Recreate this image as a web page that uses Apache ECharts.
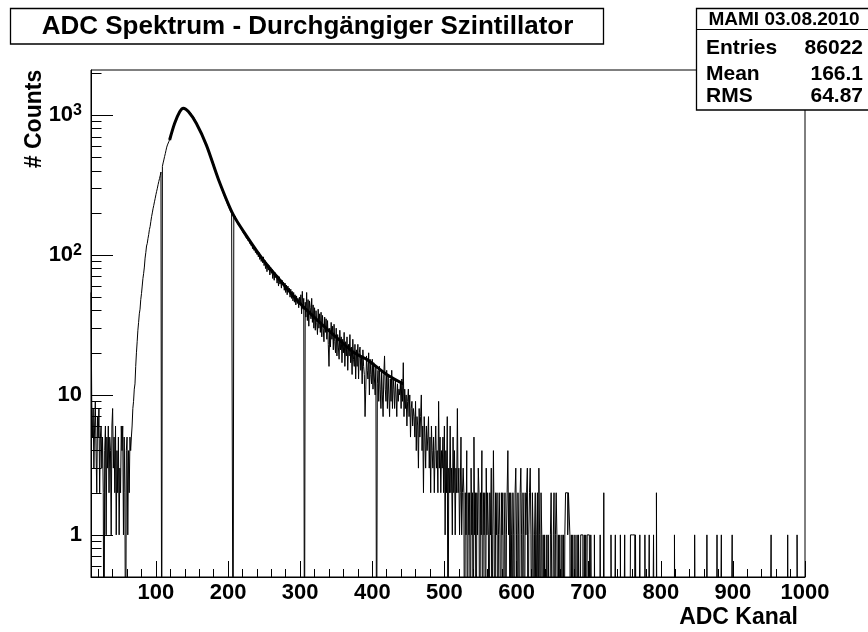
<!DOCTYPE html>
<html><head><meta charset="utf-8">
<script src="https://cdn.jsdelivr.net/npm/echarts@6/dist/echarts.min.js"></script>
<style>html,body{margin:0;padding:0;background:#fff}#c{width:868px;height:632px}</style>
</head><body><div id="c"></div>
<script>
// ---- data ----
const titleText = 'ADC Spektrum - Durchgängiger Szintillator';
const xAxisTitle = 'ADC Kanal';
const yAxisTitle = '# Counts';
const statHeader = 'MAMI 03.08.2010';
const statLabels = ['Entries', 'Mean', 'RMS'];
const statValues = ['86022', '166.1', '64.87'];

const binStart = 10;   // first bin (channel) shown
const binEnd = 1000;   // histogram upper edge
// counts per channel, channels 10 .. 707
const counts = [
 54,9,5,8,3,6,9,4,2,7,
 5,8,2,5,6,3,5,2,0,4,
 6,1,5,3,6,2,5,4,1,6,
 8,3,5,2,6,1,4,2,5,1,
 3,2,6,4,6,1,5,2,0,4,
 5,1,4,2,5,4,5,6,8,9,
 11,12,16,20,24,29,33,38,41,48,
 53,60,68,74,82,95,104,116,121,131,
 140,152,160,174,188,200,214,226,240,254,
 270,285,300,318,335,352,370,392,0,430,
 455,478,505,530,560,590,612,630,648,664,
 690,720,750,790,810,845,874,900,935,960,
 988,1012,1030,1057,1072,1098,1104,1121,1126,1108,
 1121,1095,1101,1080,1089,1062,1058,1041,1028,1011,
 992,975,960,938,925,901,880,866,849,830,
 812,792,770,752,731,705,690,668,650,631,
 612,598,580,561,548,522,510,494,476,462,
 448,430,415,400,386,370,356,345,334,320,
 312,298,290,280,271,262,255,248,240,233,
 226,220,214,208,204,199,196,0,192,181,
 190,176,180,170,172,162,166,158,155,160,
 148,150,141,146,136,140,131,137,126,131,
 121,127,117,122,111,118,108,113,104,110,
 101,106,97,104,93,99,90,96,88,97,
 84,92,80,89,76,86,78,84,72,82,
 74,79,68,77,66,75,69,72,63,71,
 60,70,62,67,58,66,61,64,56,63,
 54,61,52,60,55,58,50,57,49,55,
 47,54,46,52,44,51,45,49,42,50,
 44,52,38,55,41,49,0,46,36,54,
 34,48,31,47,42,35,49,33,44,30,
 42,29,40,33,27,41,30,38,28,39,
 26,37,30,24,36,28,35,25,34,23,
 16,30,22,33,25,31,21,32,24,20,
 30,19,27,22,18,29,21,26,17,25,
 20,28,16,24,19,26,15,23,19,27,
 17,22,14,25,18,16,23,13,21,16,
 23,13,20,22,15,19,12,21,16,14,
 7,11,19,15,13,20,10,18,14,12,
 18,11,17,13,10,16,0,12,15,9,
 16,11,8,15,10,7,14,19,11,9,
 15,8,14,10,7,13,9,15,8,13,
 11,8,13,10,7,12,9,11,10,12,
 8,13,9,17,7,11,8,10,6,9,
 11,7,10,5,8,9,6,8,7,5,
 9,4,7,6,3,8,5,7,10,4,
 6,2,7,5,3,6,4,5,7,3,
 5,2,6,4,3,5,2,4,6,3,
 4,2,9,3,5,2,4,3,5,2,
 6,1,4,2,7,0,3,2,6,2,
 3,1,5,2,4,1,3,2,8,2,
 3,1,2,5,1,2,3,2,0,2,
 1,4,0,2,1,2,0,3,1,2,
 0,5,1,2,0,2,1,3,2,0,
 2,1,4,0,2,1,2,0,3,1,
 2,1,0,2,1,3,0,1,4,1,
 0,2,1,2,0,1,2,1,0,2,
 1,2,0,1,2,0,1,2,4,1,
 2,0,2,1,0,2,1,0,2,3,
 1,0,2,1,0,2,3,1,0,2,
 1,0,2,1,2,3,0,1,2,3,
 1,0,2,1,0,1,2,0,1,2,
 0,3,1,0,2,1,0,1,0,1,
 1,0,1,0,1,1,0,1,2,2,
 0,1,2,0,1,2,1,0,1,0,
 1,1,0,1,0,1,0,1,2,2,
 2,1,2,2,1,0,1,0,1,1,
 0,1,1,0,1,0,1,1,0,1,
 1,1,0,0,1,0,1,0,1,1,
 1,1,0,1,1,0,0,0
];
// sparse tail above channel 707 (all other channels empty)
const tailBins   = [708,716,721,731,737,744,750,758,759,760,761,762,763,765,771,778,784,790,794,819,847,864,878,884,899,953,976,989];
const tailCounts = [1,  1,  2,  1,  1,  1,  1,  1,  1,  1,  1,  1,  1,  1,  1,  1,  1,  1,  2,  1,  1,  1,  1,  1,  1,  1,  1,  1];

// fit curve, points
const fitX = [119,126,133,138,145,156,170,187,207,226,249,270,300,330,346,375,392,420,443];
const fitY = [664,874,1057,1120,1060,874,610,344,195,136,92,68,45,32,27,20,18,14,12];

// axis ticks / labels
const xMajorTicks = [100,200,300,400,500,600,700,800,900,1000];
const xTickLabels = ['100','200','300','400','500','600','700','800','900','1000'];
const yMajorTicks = [1,10,100,1000];
const yTickLabels = ['1','10','10{sup|2}','10{sup|3}'];
const xMin = 10, xMax = 1000, yMin = 0.5, yMax = 2100;

// ---- build ----
const nBins = binEnd - binStart;
const full = new Array(nBins).fill(0);
counts.forEach((c, i) => { full[i] = c; });
tailBins.forEach((b, i) => { full[b - binStart] = tailCounts[i]; });
const EMPTY = 0.05; // below axis min -> clipped to frame bottom like ROOT
const histData = full.map((c, i) => [binStart + i, c > 0 ? c : EMPTY]);
histData.push([binEnd, full[nBins - 1] > 0 ? full[nBins - 1] : EMPTY]);
const fitData = fitX.map((x, i) => [x, fitY[i]]);

const xMinorTicks = [];
for (let v = 20; v < xMax; v += 20) if (v % 100 !== 0) xMinorTicks.push(v);
const yMinorTicks = [];
[0.1, 1, 10, 100, 1000].forEach(d => { for (let k = 2; k <= 9; k++) { const v = +(k * d).toPrecision(3); if (v > yMin && v < yMax) yMinorTicks.push(v); } });

const FF = '"Liberation Sans", Arial, Helvetica, sans-serif';
const chart = echarts.init(document.getElementById('c'), null, {renderer: 'canvas'});
const black = '#000';
chart.setOption({
  animation: false,
  backgroundColor: '#fff',
  grid: {left: 91, right: 63, top: 70, bottom: 55, show: true, borderColor: black, borderWidth: 1, backgroundColor: '#fff'},
  xAxis: [
    {type: 'value', position: 'bottom', min: xMin, max: xMax,
     axisLine: {show: true, lineStyle: {color: black, width: 1}},
     axisTick: {show: true, customValues: xMajorTicks, inside: true, length: 16, lineStyle: {color: black, width: 1}},
     axisLabel: {customValues: xMajorTicks, formatter: v => xTickLabels[xMajorTicks.indexOf(v)], margin: 5,
                 color: black, fontSize: 22, fontWeight: 'bold', fontFamily: FF},
     splitLine: {show: false}},
    {type: 'value', position: 'bottom', min: xMin, max: xMax,
     axisLine: {show: false},
     axisTick: {show: true, customValues: xMinorTicks, inside: true, length: 8, lineStyle: {color: black, width: 1}},
     axisLabel: {show: false}, splitLine: {show: false}}
  ],
  yAxis: [
    {type: 'log', logBase: 10, position: 'left', min: yMin, max: yMax,
     axisLine: {show: true, lineStyle: {color: black, width: 1}},
     axisTick: {show: true, customValues: yMajorTicks, inside: true, length: 22, lineStyle: {color: black, width: 1}},
     axisLabel: {customValues: yMajorTicks, formatter: v => yTickLabels[yMajorTicks.indexOf(v)], margin: 9,
                 color: black, fontSize: 22, fontWeight: 'bold', fontFamily: FF,
                 rich: {sup: {fontSize: 16, fontWeight: 'bold', fontFamily: FF, color: black, verticalAlign: 'top', padding: [0, 0, 9, 0]}}},
     splitLine: {show: false}},
    {type: 'log', logBase: 10, position: 'left', min: yMin, max: yMax,
     axisLine: {show: false},
     axisTick: {show: true, customValues: yMinorTicks, inside: true, length: 10.5, lineStyle: {color: black, width: 1}},
     axisLabel: {show: false}, splitLine: {show: false}}
  ],
  series: [
    {type: 'line', xAxisIndex: 0, yAxisIndex: 0, data: histData, step: 'end', symbol: 'none', clip: true,
     lineStyle: {color: black, width: 1}, z: 2, silent: true},
    {type: 'line', xAxisIndex: 0, yAxisIndex: 0, data: fitData, smooth: 0.3, symbol: 'none', clip: true,
     lineStyle: {color: black, width: 3}, z: 3, silent: true}
  ],
  graphic: [
    {type: 'rect', z: 100, shape: {x: 10.5, y: 8.5, width: 593, height: 35.5}, style: {fill: '#fff', stroke: black, lineWidth: 1.3}},
    {type: 'text', z: 101, x: 307.5, y: 27, style: {text: titleText, font: 'bold 26px ' + FF, align: 'center', verticalAlign: 'middle', fill: black}},
    {type: 'rect', z: 100, shape: {x: 696.5, y: 8.5, width: 200, height: 101.5}, style: {fill: '#fff', stroke: black, lineWidth: 1.3}},
    {type: 'line', z: 101, shape: {x1: 696.5, y1: 29.5, x2: 868, y2: 29.5}, style: {stroke: black, lineWidth: 1}},
    {type: 'text', z: 101, x: 784, y: 20, style: {text: statHeader, font: 'bold 19px ' + FF, align: 'center', verticalAlign: 'middle', fill: black}},
    ...statLabels.map((s, i) => ({type: 'text', z: 101, x: 706, y: [48, 74, 96.5][i], style: {text: s, font: 'bold 21px ' + FF, align: 'left', verticalAlign: 'middle', fill: black}})),
    ...statValues.map((s, i) => ({type: 'text', z: 101, x: 863, y: [48, 74, 96.5][i], style: {text: s, font: 'bold 21px ' + FF, align: 'right', verticalAlign: 'middle', fill: black}})),
    {type: 'text', z: 101, x: 798, y: 618, style: {text: xAxisTitle, font: 'bold 23px ' + FF, align: 'right', verticalAlign: 'middle', fill: black}},
    {type: 'text', z: 101, x: 35, y: 119, rotation: Math.PI / 2, style: {text: yAxisTitle, font: 'bold 23px ' + FF, align: 'center', verticalAlign: 'middle', fill: black}}
  ]
});
</script>
</body></html>
